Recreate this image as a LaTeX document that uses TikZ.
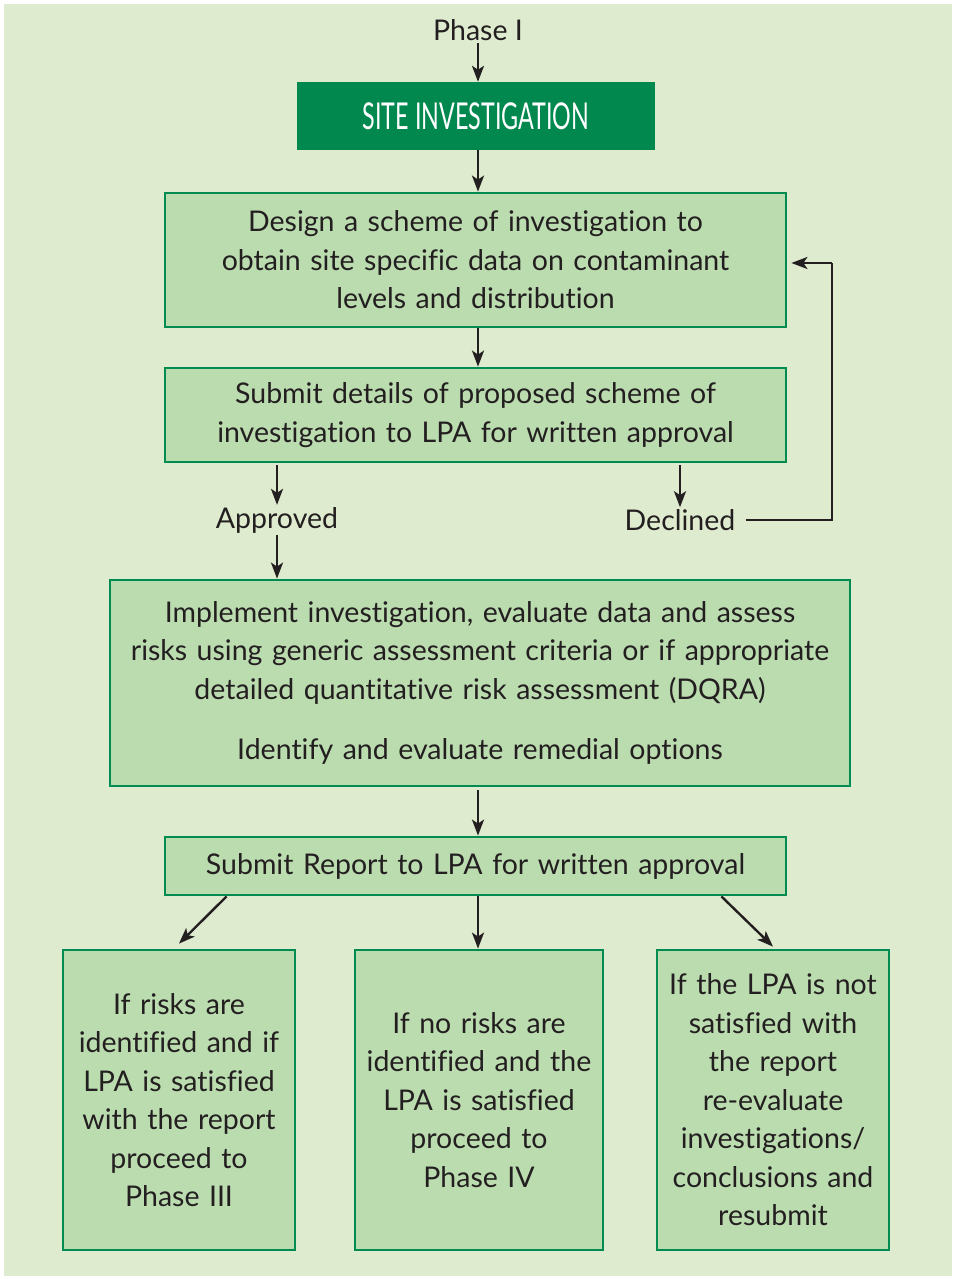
\documentclass[tikz,border=0pt]{standalone}
\usepackage{fontspec}
\setmainfont[Ligatures=NoCommon]{Lato}
\usetikzlibrary{arrows.meta,calc}
\definecolor{bgc}{HTML}{DEEBCE}
\definecolor{boxc}{HTML}{BBDCAF}
\definecolor{edgec}{HTML}{008B50}
\definecolor{titlec}{HTML}{00884F}
\definecolor{inkc}{HTML}{231F20}
\begin{document}
\begin{tikzpicture}[x=1pt,y=-1pt,
  every node/.style={font=\fontsize{28.5}{38.5}\selectfont, text=inkc, inner sep=2pt},
  panel/.style={draw=edgec, line width=2.8pt, fill=boxc, align=center, inner sep=0pt},
  titlebox/.style={fill=titlec, draw=none, inner sep=0pt},
  lbl/.style={inner sep=2pt},
  arr/.style={draw=inkc, line width=2.4pt, -{Stealth[length=16pt,width=12pt,inset=4pt]}},
  lin/.style={draw=inkc, line width=2.4pt}]
\useasboundingbox (0,0) rectangle (954,1279);
\fill[white] (0,0) rectangle (954,1279);
\fill[bgc] (4,4) rectangle (952,1276);

\node[lbl] (p1) at (478,30) {Phase I};
\node[titlebox, minimum width=358pt, minimum height=68pt] (title) at (476,116)
  {\scalebox{0.63}[1]{\color{white}\fontsize{37}{40}\selectfont SITE INVESTIGATION}};
\node[panel, minimum width=621pt, minimum height=134pt, text width=600pt] (b1) at (475.5,260)
  {Design a scheme of investigation to\\obtain site specific data on contaminant\\levels and distribution};
\node[panel, minimum width=621pt, minimum height=94pt, text width=600pt] (b2) at (475.5,415)
  {Submit details of proposed scheme of\\investigation to LPA for written approval};
\node[lbl] (app) at (277,520) {Approved};
\node[lbl] (dec) at (680,520) {Declined};
\node[panel, minimum width=740pt, minimum height=206pt, text width=730pt] (b3) at (480,683)
  {Implement investigation, evaluate data and assess\\risks using generic assessment criteria or if appropriate\\detailed quantitative risk assessment (DQRA)\\[22pt]Identify and evaluate remedial options};
\node[panel, minimum width=621pt, minimum height=58pt, text width=600pt] (b4) at (475.5,866)
  {Submit Report to LPA for written approval};
\node[panel, minimum width=232pt, minimum height=300pt, text width=225pt] (bl) at (179,1100)
  {If risks are\\identified and if\\LPA is satisfied\\with the report\\proceed to\\Phase III};
\node[panel, minimum width=248pt, minimum height=300pt, text width=240pt] (bm) at (479,1100)
  {If no risks are\\identified and the\\LPA is satisfied\\proceed to\\Phase IV};
\node[panel, minimum width=232pt, minimum height=300pt, text width=225pt] (br) at (773,1100)
  {If the LPA is not\\satisfied with\\the report\\re-evaluate\\investigations/\\conclusions and\\resubmit};

\coordinate (loop) at (832,263);

\draw[arr] (p1.south) -- (p1.south |- title.north);
\draw[arr] (title.south -| p1) -- (b1.north -| p1);
\draw[arr] (b1.south -| p1) -- (b2.north -| p1);
\draw[arr] ([yshift=-2pt]b2.south -| app.north) -- (app.north);
\draw[arr] ([yshift=-2pt]b2.south -| dec.north) -- (dec.north);
\draw[arr] (app.south) -- (app.south |- b3.north);
\draw[lin] ([xshift=8pt]dec.east) -| (loop);
\draw[arr] (loop) -- ([xshift=4pt]b1.east |- loop);
\draw[arr] ([yshift=-3pt]b3.south -| p1) -- (b4.north -| p1);
\draw[arr] ($(b4.south west)+(63,0)$) -- ([yshift=5pt]bl.north);
\draw[arr] (b4.south -| p1) -- (bm.north -| p1);
\draw[arr] ($(b4.south east)+(-66,0)$) -- ([yshift=2pt]br.north);
\end{tikzpicture}
\end{document}
